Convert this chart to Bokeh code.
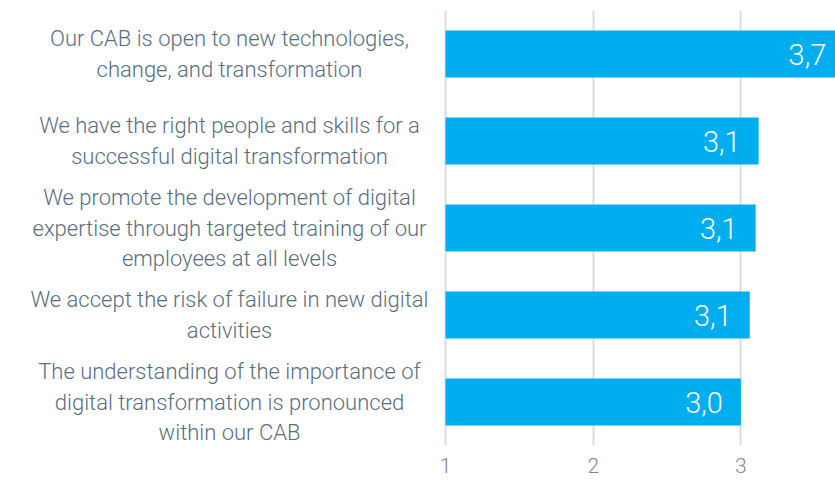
from bokeh.plotting import figure
from bokeh.models import ColumnDataSource, FixedTicker, Range1d, FactorRange
from bokeh.core.properties import value
from bokeh.embed import file_html
from bokeh.resources import INLINE

# ---- data ----
statements = [
    "Our CAB is open to new technologies,\nchange, and transformation",
    "We have the right people and skills for a\nsuccessful digital transformation",
    "We promote the development of digital\nexpertise through targeted training of our\nemployees at all levels",
    "We accept the risk of failure in new digital\nactivities",
    "The understanding of the importance of\ndigital transformation is pronounced\nwithin our CAB",
]
scores = [3.7, 3.12, 3.10, 3.06, 3.00]
score_labels = [f"{v:.1f}".replace(".", ",") for v in scores]
x_ticks = [1, 2, 3, 4]
scale_min = 1

# ---- layout constants (styles) ----
PX_PER_UNIT = 147.7
FRAME_LEFT_PX = 0
BAR_ORIGIN_PX = 445
RIGHT_EDGE_PX = 835
LABEL_CENTER_PX = 229
x_start = scale_min - (BAR_ORIGIN_PX - FRAME_LEFT_PX) / PX_PER_UNIT
x_end = scale_min + (RIGHT_EDGE_PX - BAR_ORIGIN_PX) / PX_PER_UNIT
label_x = scale_min - (BAR_ORIGIN_PX - LABEL_CENTER_PX) / PX_PER_UNIT
value_pad = 18 / PX_PER_UNIT

FONT = "Roboto Light"

keys = [f"s{i}" for i in range(len(statements))]
src = ColumnDataSource(dict(
    key=keys,
    statement=statements,
    score=scores,
    score_label=score_labels,
    label_x=[label_x] * len(keys),
    value_x=[v - value_pad for v in scores],
))

p = figure(
    width=835, height=481,
    x_range=Range1d(x_start, x_end),
    y_range=FactorRange(*list(reversed(keys)), range_padding=0),
    output_backend="svg", toolbar_location=None,
    min_border_left=0, min_border_right=0, min_border_top=10, min_border_bottom=36,
)
p.outline_line_color = None
p.background_fill_color = "white"
p.border_fill_color = "white"

p.xgrid.ticker = FixedTicker(ticks=x_ticks)
p.xgrid.grid_line_color = "#d6dee3"
p.xgrid.grid_line_width = 2
p.ygrid.grid_line_color = None

p.xaxis.ticker = FixedTicker(ticks=x_ticks)
p.xaxis.axis_line_color = None
p.xaxis.major_tick_line_color = None
p.xaxis.minor_tick_line_color = None
p.xaxis.major_tick_in = 0
p.xaxis.major_tick_out = 0
p.xaxis.major_label_standoff = 12
p.xaxis.major_label_text_font = FONT
p.xaxis.major_label_text_font_size = "21px"
p.xaxis.major_label_text_font_style = "normal"
p.xaxis.major_label_text_color = "#7a8893"
p.yaxis.visible = False

p.hbar(y="key", left=scale_min, right="score", height=0.54, source=src,
       fill_color="#00aeef", line_color=None)

p.text(x="value_x", y="key", text="score_label", source=src,
       text_align="right", text_baseline="middle",
       text_color="white", text_font=value(FONT), text_font_size="29px")

p.text(x="label_x", y="key", text="statement", source=src,
       text_align="center", text_baseline="middle",
       text_color="#5a6f7e", text_font=value(FONT), text_font_size="22px",
       text_line_height=1.22)

open("out.html", "w").write(file_html(p, INLINE))
